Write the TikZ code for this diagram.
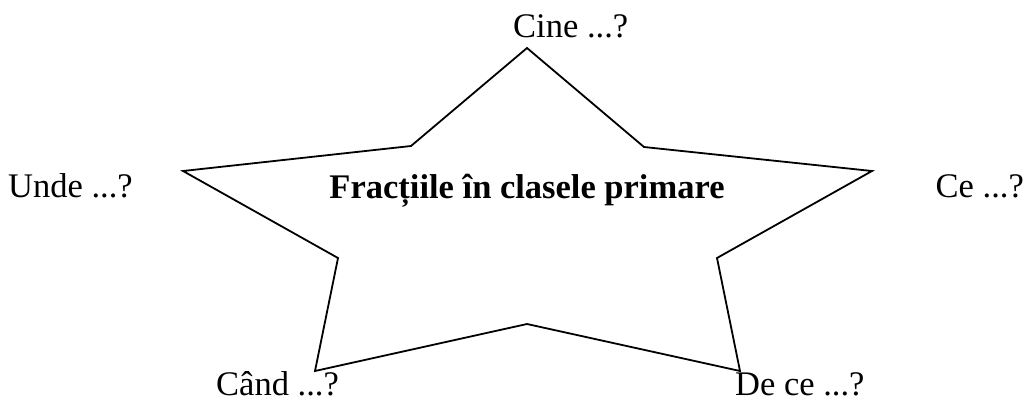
\documentclass[tikz,border=0pt]{standalone}
\usepackage{fontspec}
\setmainfont{Liberation Serif}
\begin{document}
\begin{tikzpicture}[x=1pt,y=-1pt,
  lbl/.style={font=\fontsize{34.5}{38}\selectfont, inner sep=0pt},
  starline/.style={draw=black, line width=1.8pt, line join=miter}]
\useasboundingbox (0,0) rectangle (1030,400);
\coordinate (p1) at (527,48);
\coordinate (p2) at (644,147);
\coordinate (p3) at (872,171);
\coordinate (p4) at (717,258);
\coordinate (p5) at (740,371);
\coordinate (p6) at (527,324);
\coordinate (p7) at (315,371);
\coordinate (p8) at (338,258);
\coordinate (p9) at (183,171);
\coordinate (p10) at (411,146);
\draw[starline] (p1) -- (p2) -- (p3) -- (p4) -- (p5) -- (p6) -- (p7) -- (p8) -- (p9) -- (p10) -- cycle;
\node[lbl, anchor=base] (title) at (527,198) {\bfseries Fracțiile în clasele primare};
\node[lbl, anchor=base west] (cine) at (513,37) {Cine ...?};
\node[lbl, anchor=base west] (unde) at (8,197) {Unde ...?};
\node[lbl, anchor=base east] (ce) at (1024,197) {Ce ...?};
\node[lbl, anchor=base west] (cand) at (216,395) {Când ...?};
\node[lbl, anchor=base west] (dece) at (735,395) {De ce ...?};
\end{tikzpicture}
\end{document}
